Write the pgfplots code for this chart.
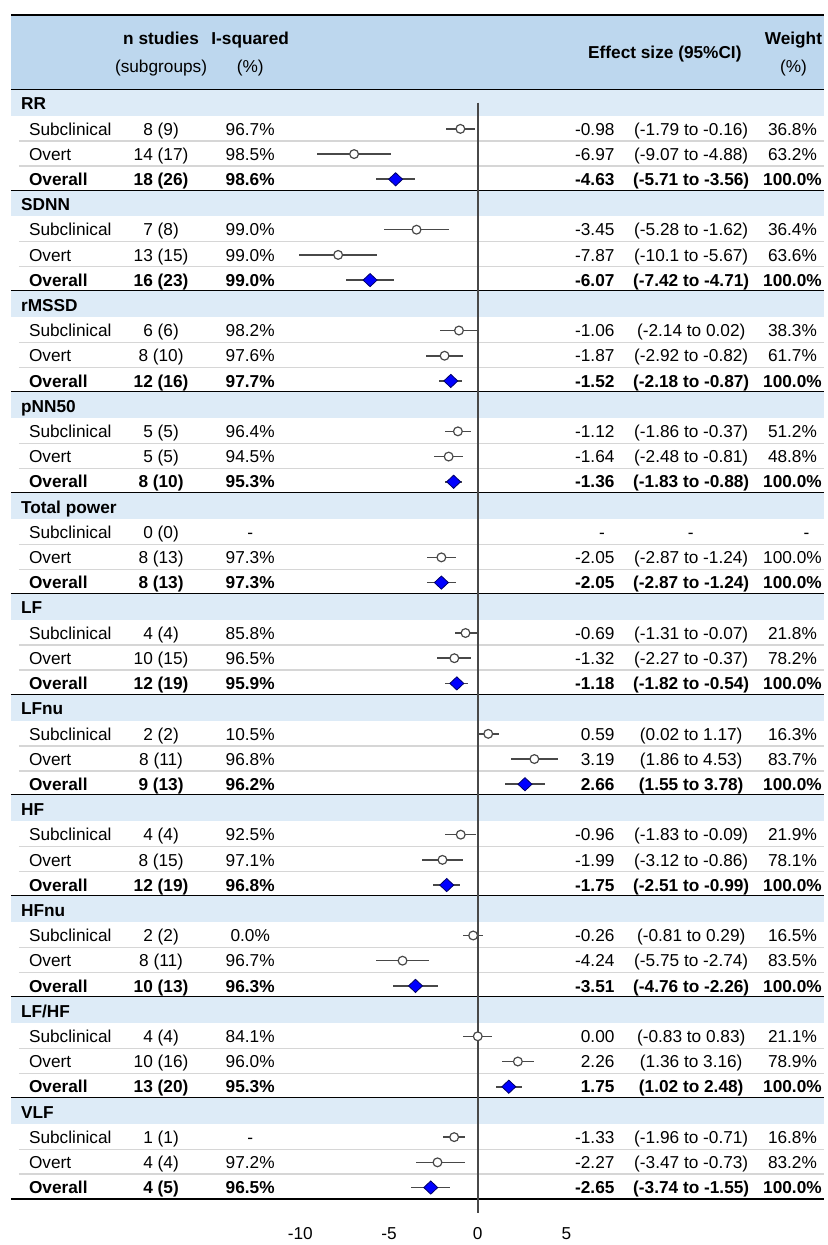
\documentclass[border=0pt]{standalone}
\usepackage{pgfplots}
\pgfplotsset{compat=1.18}
\usepackage{pgfplotstable}
\usepackage{fontspec}
\setmainfont{Liberation Sans}
\definecolor{hdr}{HTML}{BDD7EE}
\definecolor{grp}{HTML}{DDEBF7}
\definecolor{sep}{HTML}{D6D6D6}
\definecolor{cig}{HTML}{484848}
\definecolor{dia}{HTML}{0000FF}

% subgroup estimates: row, estimate, lower, upper
\pgfplotstableread{
r est lo hi
1 -0.98 -1.79 -0.16
2 -6.97 -9.07 -4.88
5 -3.45 -5.28 -1.62
6 -7.87 -10.1 -5.67
9 -1.06 -2.14 0.02
10 -1.87 -2.92 -0.82
13 -1.12 -1.86 -0.37
14 -1.64 -2.48 -0.81
18 -2.05 -2.87 -1.24
21 -0.69 -1.31 -0.07
22 -1.32 -2.27 -0.37
25 0.59 0.02 1.17
26 3.19 1.86 4.53
29 -0.96 -1.83 -0.09
30 -1.99 -3.12 -0.86
33 -0.26 -0.81 0.29
34 -4.24 -5.75 -2.74
37 0.00 -0.83 0.83
38 2.26 1.36 3.16
41 -1.33 -1.96 -0.71
42 -2.27 -3.47 -0.73
}\subdata
% overall estimates
\pgfplotstableread{
r est lo hi
3 -4.63 -5.71 -3.56
7 -6.07 -7.42 -4.71
11 -1.52 -2.18 -0.87
15 -1.36 -1.83 -0.88
19 -2.05 -2.87 -1.24
23 -1.18 -1.82 -0.54
27 2.66 1.55 3.78
31 -1.75 -2.51 -0.99
35 -3.51 -4.76 -2.26
39 1.75 1.02 2.48
43 -2.65 -3.74 -1.55
}\alldata

\newcommand{\trow}[8]{%
  \node[anchor=base west] at (axis cs:-25.635,{#1+0.245}) {#8#2};
  \node[anchor=base] at (axis cs:-17.85,{#1+0.245}) {#8#3};
  \node[anchor=base] at (axis cs:-12.826,{#1+0.245}) {#8#4};
  \node[anchor=base east] at (axis cs:8.05,{#1+0.245}) {#8#5};
  \node[anchor=base] at (axis cs:12.03,{#1+0.245}) {#8#6};
  \node[anchor=base] at (axis cs:17.736,{#1+0.245}) {#8#7};
}
\newcommand{\grp}[2]{%
  \fill[grp] (axis cs:-26.309,{#1-0.554}) rectangle (axis cs:19.534,{#1+0.4745});
  \draw[sep,line width=0.7pt] (axis cs:-25.86,{#1+1.48}) -- (axis cs:19.534,{#1+1.48});
  \draw[sep,line width=0.7pt] (axis cs:-25.86,{#1+2.47}) -- (axis cs:19.534,{#1+2.47});
  \draw[black,line width=1.1pt] (axis cs:-26.309,{#1+3.45}) -- (axis cs:19.534,{#1+3.45});
  \node[anchor=base west,font=\bfseries] at (axis cs:-26.084,{#1+0.245}) {#2};
}

\begin{document}
\fontsize{8.65pt}{10pt}\selectfont
\begin{tikzpicture}
\begin{axis}[
  scale only axis, width=413.5pt, height=622.5pt,
  xmin=-26.927, xmax=19.534, ymin=-4.1127, ymax=45.121,
  y dir=reverse, hide axis, clip=false,
  enlargelimits=false,
  every node/.append style={font=\fontsize{8.65pt}{10pt}\selectfont, inner sep=0pt, text=black!90},
]
\path (axis cs:-26.927,-4.1127) rectangle (axis cs:19.534,45.121);
% header band
\fill[hdr] (axis cs:-26.309,-3.52) rectangle (axis cs:19.534,-0.554);
\draw[black,line width=1.1pt] (axis cs:-26.309,-3.52) -- (axis cs:19.534,-3.52);
\draw[black,line width=1.1pt] (axis cs:-26.309,-0.554) -- (axis cs:19.534,-0.554);
\node[anchor=base,font=\bfseries\fontsize{8.65pt}{10pt}\selectfont] at (axis cs:-17.85,{-2.61+0.245}) {n studies};
\node[anchor=base] at (axis cs:-17.85,{-1.463+0.245}) {(subgroups)};
\node[anchor=base,font=\bfseries\fontsize{8.65pt}{10pt}\selectfont] at (axis cs:-12.826,{-2.61+0.245}) {I-squared};
\node[anchor=base] at (axis cs:-12.826,{-1.463+0.245}) {(\%)};
\node[anchor=base,font=\bfseries\fontsize{8.65pt}{10pt}\selectfont] at (axis cs:10.545,{-2.056+0.245}) {Effect size (95\%CI)};
\node[anchor=base,font=\bfseries\fontsize{8.65pt}{10pt}\selectfont] at (axis cs:17.79,{-2.61+0.245}) {Weight};
\node[anchor=base] at (axis cs:17.79,{-1.463+0.245}) {(\%)};

\grp{0}{RR}
\grp{4}{SDNN}
\grp{8}{rMSSD}
\grp{12}{pNN50}
\grp{16}{Total power}
\grp{20}{LF}
\grp{24}{LFnu}
\grp{28}{HF}
\grp{32}{HFnu}
\grp{36}{LF/HF}
\grp{40}{VLF}

% zero line
\draw[cig,line width=0.8pt] (axis cs:0,-0.04) -- (axis cs:0,44.01);

% CIs and markers
\addplot[draw=none, mark=none, forget plot,
  error bars/.cd, x dir=both, x explicit, error mark=none,
  error bar style={cig, line width=0.8pt}]
  table[x=est, y=r, x error minus expr={\thisrow{est}-\thisrow{lo}}, x error plus expr={\thisrow{hi}-\thisrow{est}}] {\subdata};
\addplot[draw=none, mark=none, forget plot,
  error bars/.cd, x dir=both, x explicit, error mark=none,
  error bar style={cig, line width=0.8pt}]
  table[x=est, y=r, x error minus expr={\thisrow{est}-\thisrow{lo}}, x error plus expr={\thisrow{hi}-\thisrow{est}}] {\alldata};
\addplot[only marks, mark=*, mark size=2.2pt, mark options={fill=white, draw=cig, line width=0.6pt}]
  table[x=est, y=r] {\subdata};
\addplot[only marks, mark=diamond*, mark size=3.3pt, mark options={fill=dia, draw=black!60!blue, line width=0.4pt, xscale=1.42}]
  table[x=est, y=r] {\alldata};

% text rows
\trow{1}{Subclinical}{8 (9)}{96.7\%}{-0.98}{(-1.79 to -0.16)}{36.8\%}{}
\trow{2}{Overt}{14 (17)}{98.5\%}{-6.97}{(-9.07 to -4.88)}{63.2\%}{}
\trow{3}{Overall}{18 (26)}{98.6\%}{-4.63}{(-5.71 to -3.56)}{100.0\%}{\bfseries}
\trow{5}{Subclinical}{7 (8)}{99.0\%}{-3.45}{(-5.28 to -1.62)}{36.4\%}{}
\trow{6}{Overt}{13 (15)}{99.0\%}{-7.87}{(-10.1 to -5.67)}{63.6\%}{}
\trow{7}{Overall}{16 (23)}{99.0\%}{-6.07}{(-7.42 to -4.71)}{100.0\%}{\bfseries}
\trow{9}{Subclinical}{6 (6)}{98.2\%}{-1.06}{(-2.14 to 0.02)}{38.3\%}{}
\trow{10}{Overt}{8 (10)}{97.6\%}{-1.87}{(-2.92 to -0.82)}{61.7\%}{}
\trow{11}{Overall}{12 (16)}{97.7\%}{-1.52}{(-2.18 to -0.87)}{100.0\%}{\bfseries}
\trow{13}{Subclinical}{5 (5)}{96.4\%}{-1.12}{(-1.86 to -0.37)}{51.2\%}{}
\trow{14}{Overt}{5 (5)}{94.5\%}{-1.64}{(-2.48 to -0.81)}{48.8\%}{}
\trow{15}{Overall}{8 (10)}{95.3\%}{-1.36}{(-1.83 to -0.88)}{100.0\%}{\bfseries}
% Total power subclinical
\node[anchor=base west] at (axis cs:-25.635,{17+0.245}) {Subclinical};
\node[anchor=base] at (axis cs:-17.85,{17+0.245}) {0 (0)};
\node[anchor=base] at (axis cs:-12.826,{17+0.245}) {-};
\node[anchor=base] at (axis cs:7.006,{17+0.245}) {-};
\node[anchor=base] at (axis cs:12.006,{17+0.245}) {-};
\node[anchor=base] at (axis cs:18.522,{17+0.245}) {-};
\trow{18}{Overt}{8 (13)}{97.3\%}{-2.05}{(-2.87 to -1.24)}{100.0\%}{}
\trow{19}{Overall}{8 (13)}{97.3\%}{-2.05}{(-2.87 to -1.24)}{100.0\%}{\bfseries}
\trow{21}{Subclinical}{4 (4)}{85.8\%}{-0.69}{(-1.31 to -0.07)}{21.8\%}{}
\trow{22}{Overt}{10 (15)}{96.5\%}{-1.32}{(-2.27 to -0.37)}{78.2\%}{}
\trow{23}{Overall}{12 (19)}{95.9\%}{-1.18}{(-1.82 to -0.54)}{100.0\%}{\bfseries}
\trow{25}{Subclinical}{2 (2)}{10.5\%}{0.59}{(0.02 to 1.17)}{16.3\%}{}
\trow{26}{Overt}{8 (11)}{96.8\%}{3.19}{(1.86 to 4.53)}{83.7\%}{}
\trow{27}{Overall}{9 (13)}{96.2\%}{2.66}{(1.55 to 3.78)}{100.0\%}{\bfseries}
\trow{29}{Subclinical}{4 (4)}{92.5\%}{-0.96}{(-1.83 to -0.09)}{21.9\%}{}
\trow{30}{Overt}{8 (15)}{97.1\%}{-1.99}{(-3.12 to -0.86)}{78.1\%}{}
\trow{31}{Overall}{12 (19)}{96.8\%}{-1.75}{(-2.51 to -0.99)}{100.0\%}{\bfseries}
\trow{33}{Subclinical}{2 (2)}{0.0\%}{-0.26}{(-0.81 to 0.29)}{16.5\%}{}
\trow{34}{Overt}{8 (11)}{96.7\%}{-4.24}{(-5.75 to -2.74)}{83.5\%}{}
\trow{35}{Overall}{10 (13)}{96.3\%}{-3.51}{(-4.76 to -2.26)}{100.0\%}{\bfseries}
\trow{37}{Subclinical}{4 (4)}{84.1\%}{0.00}{(-0.83 to 0.83)}{21.1\%}{}
\trow{38}{Overt}{10 (16)}{96.0\%}{2.26}{(1.36 to 3.16)}{78.9\%}{}
\trow{39}{Overall}{13 (20)}{95.3\%}{1.75}{(1.02 to 2.48)}{100.0\%}{\bfseries}
\trow{41}{Subclinical}{1 (1)}{-}{-1.33}{(-1.96 to -0.71)}{16.8\%}{}
\trow{42}{Overt}{4 (4)}{97.2\%}{-2.27}{(-3.47 to -0.73)}{83.2\%}{}
\trow{43}{Overall}{4 (5)}{96.5\%}{-2.65}{(-3.74 to -1.55)}{100.0\%}{\bfseries}

% axis tick labels
\node[anchor=base] at (axis cs:-10,{44.80+0.245}) {-10};
\node[anchor=base] at (axis cs:-5,{44.80+0.245}) {-5};
\node[anchor=base] at (axis cs:0,{44.80+0.245}) {0};
\node[anchor=base] at (axis cs:5,{44.80+0.245}) {5};
\end{axis}
\end{tikzpicture}
\end{document}
